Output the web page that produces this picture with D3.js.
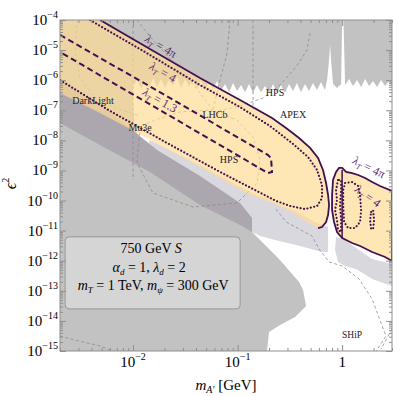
<!DOCTYPE html>
<html>
<head>
<meta charset="utf-8">
<script src="https://cdn.jsdelivr.net/npm/d3@7"></script>
<style>
  body { margin: 0; background: #fff; }
  svg { display: block; font-family: "Liberation Serif", "DejaVu Serif", serif; }
  .eje .domain { display: none; }
  .eje line { stroke: #8f8f8f; }
</style>
</head>
<body>
<div id="graf"></div>
<script>
// I. Datos (m_A' en GeV, epsilon^2)

// borde superior dentado de la zona permitida (BaBar / KLOE ...)
bordeDentado = [
  [0.0100, 6.4e-7], [0.01092, 1.01e-6], [0.01193, 5.1e-7], [0.01303, 9.4e-7], [0.01423, 5.5e-7],
  [0.01554, 1.18e-6], [0.01697, 5.9e-7], [0.01853, 1.09e-6], [0.02024, 5.5e-7], [0.0221, 1.01e-6],
  [0.02414, 6.4e-7], [0.02636, 1.28e-6], [0.02879, 5.5e-7], [0.03144, 1.09e-6], [0.03433, 5.9e-7],
  [0.0375, 1.18e-6], [0.04095, 5.1e-7], [0.04472, 1.01e-6], [0.04884, 4.7e-7], [0.05333, 8.7e-7],
  [0.05824, 5.1e-7], [0.0636, 9.4e-7], [0.06946, 4.4e-7], [0.07585, 7.5e-7], [0.08283, 4.0e-7],
  [0.09046, 8.1e-7], [0.09879, 4.4e-7], [0.1079, 6.9e-7], [0.1178, 4.0e-7], [0.1286, 7.5e-7],
  [0.1405, 3.75e-7], [0.1534, 6.9e-7], [0.1675, 4.0e-7], [0.1830, 6.4e-7], [0.1998, 3.75e-7],
  [0.2182, 7.5e-7], [0.2383, 4.0e-7], [0.2602, 6.9e-7], [0.2842, 3.75e-7], [0.3103, 7.5e-7],
  [0.3389, 4.4e-7], [0.3701, 8.1e-7], [0.4042, 4.0e-7], [0.4414, 7.5e-7], [0.4820, 4.4e-7],
  [0.5264, 8.1e-7], [0.5749, 4.7e-7], [0.6278, 8.7e-7], [0.6856, 4.7e-7], [0.718, 1.01e-6],
  [0.750, 4.7e-6], [0.767, 1.48e-5], [0.784, 4.7e-6], [0.819, 7.5e-7], [0.894, 5.5e-7],
  [0.978, 7.5e-7], [1.0, 1e-4], [1.03, 1e-4], [1.068, 6.9e-7], [1.166, 1.09e-6],
  [1.274, 6.4e-7], [1.391, 1.01e-6], [1.519, 5.9e-7], [1.659, 1.09e-6], [1.812, 6.4e-7],
  [1.978, 9.4e-7], [2.160, 5.9e-7], [2.359, 1.01e-6], [2.576, 6.4e-7], [2.813, 9.4e-7],
  [3.0, 6.9e-7], [3.0, 1e-15]
]
// borde del bloque gris de beam dump (de abajo hacia arriba)
bordeBeamDump = [
  [0.1913, 1e-15], [0.1998, 4.3e-15], [0.2547, 7.3e-15], [0.3548, 1.35e-14], [0.4518, 3.12e-14],
  [0.4229, 1.06e-13], [0.3873, 1.96e-13], [0.2491, 1.14e-12], [0.1713, 4.2e-12], [0.1374, 9.0e-12],
  [0.1287, 2.43e-11]
]
bordeIzq = [
  [0.0847, 7.1e-11], [0.0351, 3.28e-10], [0.0181, 2.8e-9], [0.013, 7.0e-9], [0.01044, 2.21e-8],
  [0.0100, 2.19e-7]
]
// zonas lila claro
lilaA = [
  [0.0145, 1.03e-8], [0.0437, 1.52e-9], [0.1316, 1.92e-10], [0.3395, 4.85e-11], [0.5756, 1.79e-11],
  [0.7339, 1.32e-11], [0.7339, 1.95e-12], [0.6421, 1.95e-12], [0.3959, 3.08e-12], [0.2281, 4.9e-12],
  [0.164, 6.6e-12], [0.1374, 9.0e-12], [0.1316, 2.25e-11], [0.0847, 7.1e-11], [0.0351, 3.04e-10],
  [0.01695, 1.52e-9], [0.013, 4.1e-9]
]
lilaB = [
  [0.8744, 6.1e-12], [1.068, 4.9e-12], [1.361, 2.65e-12], [1.936, 1.14e-12], [3.0, 7.8e-13],
  [3.0, 1.44e-13], [1.936, 2.47e-13], [1.361, 5.3e-13], [1.068, 6.7e-13], [0.9136, 9.1e-13],
  [0.8555, 2.27e-12]
]
// banda diagonal gris violeta
bandaDiag = [
  [0.002, 1.01e-6], [0.00483, 1.61e-7], [0.01695, 4.79e-9], [0.0437, 6.55e-10], [0.1055, 8.3e-11],
  [0.1374, 2.63e-11], [0.1374, 9.0e-12], [0.1055, 1.54e-11], [0.0437, 7.1e-11], [0.0145, 8.9e-10],
  [0.00483, 7.0e-9], [0.002, 3.78e-8]
]

// contorno lambda_T = 4 pi (zona principal)
lam4piMain = [
  [0.00483, 1e-4], [0.0145, 1.09e-5], [0.0437, 1.18e-6], [0.1055, 2.19e-7], [0.2135, 5.5e-8],
  [0.2907, 2.58e-8], [0.3873, 1.2e-8], [0.4934, 5.6e-9], [0.5883, 2.59e-9], [0.6563, 1.04e-9],
  [0.702, 3.83e-10], [0.7339, 1.53e-10], [0.7502, 7.1e-11], [0.7339, 3.3e-11], [0.702, 1.94e-11],
  [0.6421, 1.32e-11], [0.5883, 1.22e-11]
]
// borde inferior de la zona naranja principal
naranjaInf = [
  [0.442, 2.09e-11], [0.3395, 3.85e-11], [0.2281, 7.7e-11], [0.1316, 1.53e-10], [0.0437, 1.30e-9],
  [0.0181, 7.0e-9], [0.00483, 8.1e-8], [0.002, 3.75e-7], [0.002, 1e-4]
]
// isla de la derecha, lambda_T = 4 pi
lam4piIsla = [
  [0.8744, 8.9e-10], [0.9338, 1.21e-9], [1.0, 1.21e-9], [1.092, 8.9e-10], [1.246, 8.2e-10],
  [1.423, 7.06e-10], [1.659, 5.6e-10], [1.936, 4.13e-10], [2.307, 3.04e-10], [3.0, 2.07e-10],
  [3.0, 9.8e-13], [2.576, 1.33e-12], [1.936, 1.95e-12], [1.486, 3.08e-12], [1.246, 3.88e-12],
  [1.0, 5.7e-12], [0.8938, 9.0e-12], [0.837, 1.94e-11], [0.8011, 4.85e-11], [0.8011, 1.53e-10],
  [0.8188, 4.82e-10]
]
islaDivision = [[1.0, 1.04e-9], [1.0, 5.7e-12]]

// contornos lambda_T = 4
lam4Main = [
  [0.00387, 1e-4], [0.0145, 6.9e-6], [0.0437, 6.9e-7], [0.1055, 1.28e-7], [0.2043, 3.0e-8],
  [0.3395, 7.6e-9], [0.472, 2.8e-9], [0.5756, 1.04e-9], [0.6421, 3.28e-10], [0.6421, 1.21e-10],
  [0.5756, 6.6e-11], [0.442, 5.2e-11], [0.3177, 6.6e-11], [0.2331, 9.7e-11], [0.068, 8.9e-10],
  [0.0211, 8.2e-9], [0.00602, 9.5e-8], [0.002, 1.01e-6]
]
lam4IslaA = [
  [0.9136, 4.82e-10], [0.8744, 2.24e-10], [0.8938, 1.04e-10], [0.8555, 4.85e-11], [0.8938, 2.25e-11],
  [0.9136, 1.05e-11], [0.978, 9.0e-12], [0.978, 2.25e-11], [0.9544, 7.1e-11], [0.978, 2.24e-10],
  [0.978, 4.82e-10]
]
lam4IslaB = [
  [1.068, 3.83e-10], [1.246, 4.13e-10], [1.423, 3.04e-10], [1.486, 1.53e-10], [1.519, 4.85e-11],
  [1.486, 1.94e-11], [1.331, 1.22e-11], [1.141, 1.22e-11], [1.045, 1.94e-11], [1.024, 7.1e-11],
  [1.024, 2.24e-10]
]
lam4IslaC = [
  [1.894, 4.16e-11], [1.978, 4.85e-11], [2.023, 2.25e-11], [1.978, 1.13e-11], [1.894, 1.13e-11],
  [1.853, 2.25e-11]
]
// contorno lambda_T = 1.3
lam13 = [
  [0.002, 3.18e-5], [0.0202, 3.2e-7], [0.1955, 3.26e-9], [0.2088, 2.59e-9], [0.2135, 8.9e-10],
  [0.1955, 8.2e-10], [0.0202, 8.1e-8], [0.002, 8.6e-6]
]

// proyecciones (líneas grises discontinuas)
proyecciones = [
  [[0.01, 1e-4], [0.01, 4.82e-10]],
  [[0.00291, 1e-4], [0.00279, 1.01e-5], [0.00311, 1.18e-6], [0.00432, 2.56e-7], [0.00672, 1.19e-7], [0.01167, 6.45e-8]],
  [[0.0109, 1e-4], [0.0155, 2.16e-5], [0.0328, 1.28e-6], [0.0437, 3.75e-7], [0.0582, 1.02e-7]],
  [[0.0847, 1e-4], [0.0793, 8.0e-6], [0.068, 1.01e-6], [0.0582, 1.02e-7]],
  [[0.1405, 1e-4], [0.1405, 1.02e-7]],
  [[0.4934, 3.7e-5], [0.4618, 1.01e-5], [0.362, 2.74e-6], [0.2547, 6.9e-7], [0.1751, 2.56e-7], [0.1055, 1.39e-7], [0.0608, 8.8e-8]],
  [[0.01167, 2.78e-8], [0.0109, 1.77e-9], [0.0155, 1.78e-10], [0.0375, 6.1e-11], [0.0988, 8.3e-11], [0.1534, 3.83e-10],
   [0.164, 2.22e-9], [0.1405, 1.29e-8], [0.0988, 4.75e-8], [0.0545, 1.02e-7], [0.0281, 8.8e-8], [0.0162, 4.75e-8], [0.01167, 2.78e-8]],
  [[0.2331, 5.2e-11], [0.2907, 1.94e-11], [0.5157, 6.6e-12], [0.6013, 2.45e-12], [0.7502, 9.1e-13], [1.0, 6.7e-13],
   [1.455, 2.47e-13], [1.936, 5.3e-14], [2.413, 6.8e-15], [2.634, 3.15e-15], [2.113, 1e-15]],
  [[3.0, 5.4e-15], [2.359, 1.17e-15]],
  [[0.002, 3.15e-15], [0.00279, 2.3e-15], [0.00483, 1.47e-15], [0.00643, 1e-15]]
]

// etiquetas
experimentos = [
  { nombre: 'DarkLight', m: 0.00414, e: 2.19e-7 },
  { nombre: 'Mu3e', m: 0.01167, e: 2.78e-8 },
  { nombre: 'LHCb', m: 0.0608, e: 6.97e-8 },
  { nombre: 'HPS', m: 0.0828, e: 2.4e-9 },
  { nombre: 'HPS', m: 0.2281, e: 3.75e-7 },
  { nombre: 'APEX', m: 0.3395, e: 7.5e-8 },
  { nombre: 'SHiP', m: 1.246, e: 3.4e-15 }
]
lambdas = [
  { valor: '4π', m: 0.0185, e: 1.37e-5, ang: 30 },
  { valor: '4', m: 0.0193, e: 1.87e-6, ang: 30 },
  { valor: '1.3', m: 0.0181, e: 2.19e-7, ang: 30 },
  { valor: '4π', m: 1.812, e: 1.30e-9, ang: 27 },
  { valor: '4', m: 1.77, e: 1.42e-10, ang: 36 }
]
ticksY = [1e-15, 1e-14, 1e-13, 1e-12, 1e-11, 1e-10, 1e-9, 1e-8, 1e-7, 1e-6, 1e-5, 1e-4]
expY = ['−15', '−14', '−13', '−12', '−11', '−10', '−9', '−8', '−7', '−6', '−5', '−4']
ticksX = [0.01, 0.1, 1]
expX = ['−2', '−1', '']

// II. Configuración
ancho_total = 399
alto_total = 396
margins = { top: 20, left: 60, right: 7, bottom: 45 }
ancho = ancho_total - margins.left - margins.right
alto = alto_total - margins.top - margins.bottom

svg = d3.select('#graf').append('svg')
        .attr('width', ancho_total)
        .attr('height', alto_total)

x = d3.scaleLog().domain([0.002, 3]).range([0, ancho])
y = d3.scaleLog().domain([1e-15, 1e-4]).range([alto, 0])

svg.append('clipPath').attr('id', 'recorte')
   .append('rect').attr('width', ancho).attr('height', alto)

g = svg.append('g')
       .attr('transform', `translate(${ margins.left }, ${ margins.top })`)

zona = g.append('g').attr('clip-path', 'url(#recorte)')

linea = d3.line().x(d => x(d[0])).y(d => y(d[1]))
poligono = pts => linea(pts) + 'Z'

// III. Capas de exclusión
zona.append('rect').attr('width', ancho).attr('height', alto).attr('fill', '#c2c2c2')

zona.append('path')
    .attr('d', poligono([[0.01, 2.19e-7]].concat(bordeDentado, bordeBeamDump, bordeIzq)))
    .attr('fill', '#ffffff')

zona.selectAll('.lila')
    .data([lilaA, lilaB])
    .enter().append('path')
      .attr('d', poligono)
      .attr('fill', '#dad8df')

zona.append('path').attr('d', poligono(bandaDiag)).attr('fill', '#aca6ae')

zona.selectAll('.proy')
    .data(proyecciones)
    .enter().append('path')
      .attr('d', linea)
      .attr('fill', 'none')
      .attr('stroke', '#8a8a8a')
      .attr('stroke-width', 0.8)
      .attr('stroke-dasharray', '3,2.5')

// zonas naranjas (semitransparentes)
zona.append('path')
    .attr('d', poligono(lam4piMain.concat(naranjaInf)))
    .attr('fill', '#ffdc96').attr('fill-opacity', 0.7)
zona.append('path')
    .attr('d', poligono(lam4piIsla))
    .attr('fill', '#ffdc96').attr('fill-opacity', 0.7)

// IV. Contornos
morado = '#43104f'
zona.append('path').attr('d', linea(lam4piMain))
    .attr('fill', 'none').attr('stroke', morado).attr('stroke-width', 1.8)
zona.append('path').attr('d', poligono(lam4piIsla))
    .attr('fill', 'none').attr('stroke', morado).attr('stroke-width', 1.8)
zona.append('path').attr('d', linea(islaDivision))
    .attr('fill', 'none').attr('stroke', morado).attr('stroke-width', 1.5)

zona.selectAll('.punteada')
    .data([lam4Main, lam4IslaA, lam4IslaB, lam4IslaC])
    .enter().append('path')
      .attr('d', (d, i) => i == 0 ? linea(d) : poligono(d))
      .attr('fill', 'none')
      .attr('stroke', morado)
      .attr('stroke-width', 2.1)
      .attr('stroke-linecap', 'round')
      .attr('stroke-dasharray', '0.1,3.4')

zona.append('path').attr('d', linea(lam13))
    .attr('fill', 'none').attr('stroke', morado).attr('stroke-width', 2)
    .attr('stroke-dasharray', '6,3.5')

// V. Textos
zona.selectAll('.exp')
    .data(experimentos)
    .enter().append('text')
      .attr('x', d => x(d.m))
      .attr('y', d => y(d.e))
      .attr('dy', '0.35em')
      .attr('text-anchor', 'middle')
      .attr('font-size', d => d.nombre == 'SHiP' ? '9.5px' : '10px')
      .attr('fill', '#222')
      .text(d => d.nombre)

etiq = zona.selectAll('.lam')
    .data(lambdas)
    .enter().append('text')
      .attr('transform', d => `translate(${ x(d.m) }, ${ y(d.e) }) rotate(${ d.ang })`)
      .attr('dy', '0.35em')
      .attr('text-anchor', 'middle')
      .attr('font-size', '12px')
      .attr('fill', '#5c2a6c')
etiq.append('tspan').attr('font-style', 'italic').text('λ')
etiq.append('tspan').attr('font-size', '8px').attr('font-style', 'italic').attr('dy', 3).text('T')
etiq.append('tspan').attr('dy', -3).text(d => ' = ' + d.valor)

// caja de parámetros
caja = g.append('g').attr('transform', `translate(${ x(0.00224) }, ${ y(6.2e-12) })`)
caja.append('rect')
    .attr('width', 175).attr('height', 72).attr('rx', 4)
    .attr('fill', '#d5d5d5').attr('stroke', '#8a8a8a').attr('stroke-width', 0.8)
l1 = caja.append('text').attr('x', 86).attr('y', 16).attr('text-anchor', 'middle').attr('font-size', '14px')
l1.append('tspan').text('750 GeV ')
l1.append('tspan').attr('font-style', 'italic').text('S')
l2 = caja.append('text').attr('x', 84).attr('y', 35).attr('text-anchor', 'middle').attr('font-size', '14px')
l2.append('tspan').attr('font-style', 'italic').text('α')
l2.append('tspan').attr('font-style', 'italic').attr('font-size', '9px').attr('dy', 3).text('d')
l2.append('tspan').attr('dy', -3).text(' = 1, ')
l2.append('tspan').attr('font-style', 'italic').text('λ')
l2.append('tspan').attr('font-style', 'italic').attr('font-size', '9px').attr('dy', 3).text('d')
l2.append('tspan').attr('dy', -3).text(' = 2')
l3 = caja.append('text').attr('x', 88).attr('y', 53).attr('text-anchor', 'middle').attr('font-size', '14px')
l3.append('tspan').attr('font-style', 'italic').text('m')
l3.append('tspan').attr('font-style', 'italic').attr('font-size', '9px').attr('dy', 3).text('T')
l3.append('tspan').attr('dy', -3).text(' = 1 TeV, ')
l3.append('tspan').attr('font-style', 'italic').text('m')
l3.append('tspan').attr('font-style', 'italic').attr('font-size', '9px').attr('dy', 3).text('ψ')
l3.append('tspan').attr('dy', -3).text(' = 300 GeV')

// VI. Ejes (marcas hacia dentro, estilo marco)
menoresY = []
ticksY.slice(0, -1).forEach(t => { for (k = 2; k < 10; k++) menoresY.push(t * k) })
menoresX = []
;[0.001, 0.01, 0.1, 1].forEach(t => { for (k = 2; k < 10; k++) if (t * k >= 0.002 && t * k <= 3) menoresX.push(t * k) })

function ejes(escala, fabrica, trans, mayores, menores) {
  e = g.append('g').attr('class', 'eje').attr('transform', trans)
  e.append('g').call(fabrica(escala).tickValues(mayores).tickSize(-6).tickFormat(''))
  e.append('g').call(fabrica(escala).tickValues(menores).tickSize(-3).tickFormat(''))
}
ejes(y, d3.axisLeft, 'translate(0,0)', ticksY, menoresY)
ejes(y, d3.axisRight, `translate(${ ancho },0)`, ticksY, menoresY)
ejes(x, d3.axisBottom, `translate(0,${ alto })`, ticksX, menoresX)
ejes(x, d3.axisTop, 'translate(0,0)', ticksX, menoresX)

g.append('rect').attr('width', ancho).attr('height', alto)
 .attr('fill', 'none').attr('stroke', '#8f8f8f').attr('stroke-width', 1)

etY = g.selectAll('.etY')
    .data(ticksY)
    .enter().append('text')
      .attr('x', -2)
      .attr('y', d => y(d) + 5)
      .attr('text-anchor', 'end')
      .attr('font-size', '15px')
etY.append('tspan').text('10')
etY.append('tspan').attr('font-size', '10px').attr('dy', -7).text((d, i) => expY[i])

etX = g.selectAll('.etX')
    .data(ticksX)
    .enter().append('text')
      .attr('x', d => x(d))
      .attr('y', alto + 16)
      .attr('text-anchor', 'middle')
      .attr('font-size', '15px')
etX.append('tspan').text((d, i) => expX[i] ? '10' : '1')
etX.append('tspan').attr('font-size', '10px').attr('dy', -7).text((d, i) => expX[i])

// títulos de ejes
tx = g.append('text').attr('x', 166).attr('y', alto + 39).attr('text-anchor', 'middle').attr('font-size', '15px')
tx.append('tspan').attr('font-style', 'italic').text('m')
tx.append('tspan').attr('font-style', 'italic').attr('font-size', '10px').attr('dy', 3).text('A′')
tx.append('tspan').attr('dy', -3).text(' [GeV]')

ty = g.append('text').attr('transform', `translate(-44, ${ alto / 2 - 2 }) rotate(-90)`)
      .attr('text-anchor', 'middle').attr('font-size', '16px')
ty.append('tspan').attr('font-style', 'italic').text('ϵ')
ty.append('tspan').attr('font-size', '10px').attr('dy', -7).text('2')
</script>
</body>
</html>
